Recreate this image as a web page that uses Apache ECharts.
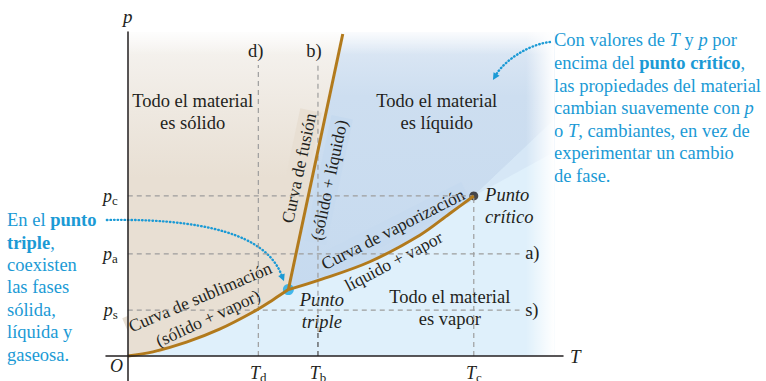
<!DOCTYPE html>
<html>
<head>
<meta charset="utf-8">
<script src="https://cdn.jsdelivr.net/npm/echarts@6/dist/echarts.min.js"></script>
<style>
  html, body { margin: 0; padding: 0; background: #fff; }
  #chart { width: 766px; height: 381px; }
</style>
</head>
<body>
<div id="chart"></div>
<script>
const SERIF = '"Liberation Serif", "DejaVu Serif", serif';
const INK = '#231f20';
const CYAN = '#1b9ad5';
const SOLID = '#e8dfd3';
const LIQUID = '#c6daef';
const VAPOR = '#dff0fb';
const CURVE = '#b27a1c';

const tickT = [3.0, 4.37, 7.95];
const tickTSub = ['d', 'b', 'c'];
const tickP = [1.42, 3.15, 4.94];
const tickPSub = ['s', 'a', 'c'];

const sublimation = [[0, 0], [0.58, 0.13], [1.35, 0.43], [2.11, 0.83], [2.88, 1.36], [3.34, 1.74], [3.69, 2.05]];
const vaporization = [[3.69, 2.05], [4.41, 2.35], [5.56, 2.91], [6.71, 3.73], [7.40, 4.40], [7.95, 4.94]];
const fusion = [[3.69, 2.05], [4.94, 9.94]];
const triplePoint = [3.69, 2.05];
const criticalPoint = [7.95, 4.94];

// líneas discontinuas [T1, p1, T2, p2]
const guides = [
  [3.0, 0, 3.0, 8.98],
  [4.37, 0.75, 4.37, 8.98],
  [7.95, 0, 7.95, 4.94],
  [0, 4.94, 7.95, 4.94],
  [0, 3.15, 9.0, 3.15],
  [0, 1.42, 9.0, 1.42]
];
const guideTbBottom = [4.37, 0, 4.37, 0.75];

// flechas punteadas (inicio, control 1, control 2, fin)
const arrowTriple = [[-0.48, 4.20], [2.34, 4.26], [3.26, 3.43], [3.59, 2.31]];
const arrowCritical = [[9.70, 9.69], [9.24, 9.63], [8.67, 9.14], [8.39, 8.52]];

const T_END = 9.8;
const P_TOP = 10;

// regiones
const vaporRegion = [[0, 0], [T_END, 0], [T_END, P_TOP], [0, P_TOP]];
const liquidRegion = fusion
  .concat([[4.955, P_TOP], [T_END, P_TOP], [T_END, 7.3]])
  .concat(vaporization.slice().reverse());
const liquidEdge = [criticalPoint, [T_END, 7.3], [T_END, 6.3]];
const solidRegion = [[0, P_TOP]].concat(sublimation, [fusion[1], [4.955, P_TOP]]);

const chart = echarts.init(document.getElementById('chart'), null, { renderer: 'svg' });

function polygonSeries(points, fill) {
  return {
    type: 'custom',
    coordinateSystem: 'cartesian2d',
    silent: true,
    data: [[0, 0]],
    renderItem: (params, api) => ({
      type: 'polygon',
      shape: { points: points.map((pt) => api.coord(pt)) },
      style: { fill: fill }
    })
  };
}

function guideSeries(g, color) {
  return {
    type: 'line',
    silent: true,
    symbol: 'none',
    data: [[g[0], g[1]], [g[2], g[3]]],
    lineStyle: { color: color, width: 1.2, type: [5, 4] }
  };
}

function arrowSeries(pts) {
  return {
    type: 'custom',
    coordinateSystem: 'cartesian2d',
    silent: true,
    data: [[0, 0]],
    renderItem: (params, api) => {
      const [a, b, c, d] = pts.map((p) => api.coord(p));
      const ang = Math.atan2(d[1] - c[1], d[0] - c[0]);
      const L = 7, W = 3.5;
      const base = [d[0] - L * Math.cos(ang), d[1] - L * Math.sin(ang)];
      const nx = -Math.sin(ang) * W, ny = Math.cos(ang) * W;
      return {
        type: 'group',
        children: [
          {
            type: 'bezierCurve',
            shape: { x1: a[0], y1: a[1], cpx1: b[0], cpy1: b[1], cpx2: c[0], cpy2: c[1], x2: base[0], y2: base[1] },
            style: { stroke: CYAN, lineWidth: 2.4, lineDash: [0.5, 3], lineCap: 'round', fill: null }
          },
          {
            type: 'polygon',
            shape: { points: [d, [base[0] + nx, base[1] + ny], [base[0] - nx, base[1] - ny]] },
            style: { fill: CYAN }
          }
        ]
      };
    }
  };
}

// etiquetas de los ejes con subíndice (T_d, p_c, ...)
function tickSeries(values, subs, letter, horizontal) {
  return {
    type: 'custom',
    coordinateSystem: 'cartesian2d',
    silent: true,
    z: 12,
    data: values.map((v, i) => (horizontal ? [v, 0, i] : [0, v, i])),
    renderItem: (params, api) => {
      const c = api.coord([api.value(0), api.value(1)]);
      return {
        type: 'text',
        x: horizontal ? c[0] : c[0] - 10,
        y: horizontal ? c[1] + 8 : c[1],
        style: {
          text: '{i|' + letter + '}{s|' + subs[params.dataIndex] + '}',
          align: horizontal ? 'center' : 'right',
          verticalAlign: horizontal ? 'top' : 'middle',
          rich: {
            i: { fontStyle: 'italic', fontSize: 18, fontFamily: SERIF, fill: INK, lineHeight: 18 },
            s: { fontSize: 13, fontFamily: SERIF, fill: INK, lineHeight: 18, padding: [9, 0, 0, 0] }
          }
        }
      };
    }
  };
}

// textos dentro del diagrama
const labelItems = [
  { at: [1.49, 7.53], text: 'Todo el material\nes sólido' },
  { at: [7.10, 7.53], text: 'Todo el material\nes líquido' },
  { at: [7.40, 1.48], text: 'Todo el material\nes vapor', bg: VAPOR },
  { at: [4.46, 1.39], text: 'Punto\ntriple', italic: true, bg: VAPOR },
  { at: [8.21, 4.63], text: 'Punto\ncrítico', italic: true, align: 'left' },
  { at: [2.94, 9.41], text: 'd)' },
  { at: [4.28, 9.41], text: 'b)' },
  { at: [9.13, 3.18], text: 'a)', align: 'left' },
  { at: [9.13, 1.42], text: 's)', align: 'left' },
  { at: [3.93, 5.80], text: 'Curva de fusión', rot: 78, bg: SOLID, size: 17.5 },
  { at: [4.62, 5.43], text: '(sólido + líquido)', rot: 78, bg: LIQUID, size: 17.5 },
  { at: [6.09, 3.92], text: 'Curva de vaporización', rot: 27, bg: LIQUID, size: 17.5 },
  { at: [6.11, 2.93], text: 'líquido + vapor', rot: 28, bg: VAPOR, size: 17.5 },
  { at: [1.66, 1.82], text: 'Curva de sublimación', rot: 23, bg: SOLID, size: 17.5 },
  { at: [1.84, 1.17], text: '(sólido + vapor)', rot: 25, bg: SOLID, size: 17.5 }
];

const fade = (x0, y0, x1, y1, a) => new echarts.graphic.LinearGradient(x0, y0, x1, y1, [
  { offset: 0, color: 'rgba(255,255,255,0)' },
  { offset: 1, color: 'rgba(255,255,255,' + a + ')' }
]);

const option = {
  animation: false,
  grid: { left: 106, right: 203, top: 32, bottom: 0, outerBoundsMode: 'none', containLabel: false },
  xAxis: {
    type: 'value',
    min: -0.5,
    max: 10,
    z: 10,
    axisLine: { onZero: true, lineStyle: { color: INK, width: 1.5 } },
    axisTick: { show: false },
    splitLine: { show: false },
    axisLabel: { show: false },
    name: 'T',
    nameLocation: 'end',
    nameGap: 7,
    nameTextStyle: { fontStyle: 'italic', fontSize: 19, fontFamily: SERIF, color: INK }
  },
  yAxis: {
    type: 'value',
    min: -0.77,
    max: 10,
    z: 10,
    axisLine: { onZero: true, lineStyle: { color: INK, width: 1.5 } },
    axisTick: { show: false },
    splitLine: { show: false },
    axisLabel: { show: false },
    name: 'p',
    nameLocation: 'end',
    nameGap: 6,
    nameTextStyle: { fontStyle: 'italic', fontSize: 19, fontFamily: SERIF, color: INK }
  },
  graphic: [
    {
      type: 'text',
      left: 554,
      top: 29,
      style: {
        text: [
          'Con valores de {i|T} y {i|p} por',
          'encima del {b|punto crítico},',
          'las propiedades del material',
          'cambian suavemente con {i|p}',
          'o {i|T}, cambiantes, en vez de',
          'experimentar un cambio',
          'de fase.'
        ].join('\n'),
        fontSize: 18.5,
        fontFamily: SERIF,
        fill: CYAN,
        lineHeight: 22.6,
        rich: {
          i: { fontStyle: 'italic', fontSize: 18.5, fontFamily: SERIF, fill: CYAN, lineHeight: 22.6 },
          b: { fontWeight: 'bold', fontSize: 18.5, fontFamily: SERIF, fill: CYAN, lineHeight: 22.6 }
        }
      }
    },
    {
      type: 'text',
      left: 7,
      top: 209,
      style: {
        text: [
          'En el {b|punto}',
          '{b|triple},',
          'coexisten',
          'las fases',
          'sólida,',
          'líquida y',
          'gaseosa.'
        ].join('\n'),
        fontSize: 18.5,
        fontFamily: SERIF,
        fill: CYAN,
        lineHeight: 22.4,
        rich: {
          b: { fontWeight: 'bold', fontSize: 18.5, fontFamily: SERIF, fill: CYAN, lineHeight: 22.4 }
        }
      }
    },
    {
      type: 'text',
      left: 110,
      top: 357,
      style: { text: 'O', fontStyle: 'italic', fontSize: 18, fontFamily: SERIF, fill: INK }
    }
  ],
  series: [
    polygonSeries(vaporRegion, VAPOR),
    polygonSeries(liquidRegion, new echarts.graphic.LinearGradient(0, 0, 0, 1, [
      { offset: 0, color: '#dfe9f5' },
      { offset: 0.25, color: '#cddef0' },
      { offset: 1, color: LIQUID }
    ])),
    polygonSeries(liquidEdge, 'rgba(206,224,242,0.55)'),
    polygonSeries(solidRegion, new echarts.graphic.LinearGradient(0, 0, 0, 1, [
      { offset: 0, color: '#f6f4f1' },
      { offset: 0.25, color: '#eee8e0' },
      { offset: 0.45, color: SOLID },
      { offset: 1, color: SOLID }
    ])),
    // difuminado superior y derecho
    polygonSeries([[0, 9.3], [T_END, 9.3], [T_END, P_TOP], [0, P_TOP]], fade(0, 1, 0, 0, 0.85)),
    polygonSeries([[9.15, 0], [T_END, 0], [T_END, P_TOP], [9.15, P_TOP]], fade(0, 0, 1, 0, 1)),
    ...guides.map((g) => guideSeries(g, '#9d9d9d')),
    guideSeries(guideTbBottom, '#4a4a4a'),
    {
      type: 'line', silent: true, symbol: 'none', smooth: 0.35,
      data: sublimation,
      lineStyle: { color: CURVE, width: 3 }
    },
    {
      type: 'line', silent: true, symbol: 'none', smooth: 0.35,
      data: vaporization,
      lineStyle: { color: CURVE, width: 3 }
    },
    {
      type: 'line', silent: true, symbol: 'none',
      data: fusion,
      lineStyle: { color: CURVE, width: 3 }
    },
    {
      type: 'custom',
      coordinateSystem: 'cartesian2d',
      silent: true,
      data: labelItems.map((l, i) => [l.at[0], l.at[1], i]),
      renderItem: (params, api) => {
        const l = labelItems[params.dataIndex];
        const c = api.coord([api.value(0), api.value(1)]);
        return {
          type: 'text',
          x: c[0],
          y: c[1],
          rotation: (l.rot || 0) * Math.PI / 180,
          style: {
            text: l.text,
            fontSize: l.size || 18.5,
            fontFamily: SERIF,
            fontStyle: l.italic ? 'italic' : 'normal',
            fill: INK,
            align: l.align || 'center',
            verticalAlign: 'middle',
            lineHeight: 22,
            backgroundColor: l.bg || 'transparent',
            padding: l.bg ? [0, 3] : 0
          }
        };
      }
    },
    tickSeries(tickT, tickTSub, 'T', true),
    tickSeries(tickP, tickPSub, 'p', false),
    {
      type: 'scatter', silent: true, symbolSize: 11,
      data: [triplePoint],
      itemStyle: { color: '#19a9e8' }
    },
    {
      type: 'scatter', silent: true, symbolSize: 9,
      data: [criticalPoint],
      itemStyle: { color: INK }
    },
    arrowSeries(arrowTriple),
    arrowSeries(arrowCritical)
  ]
};

chart.setOption(option);
</script>
</body>
</html>
